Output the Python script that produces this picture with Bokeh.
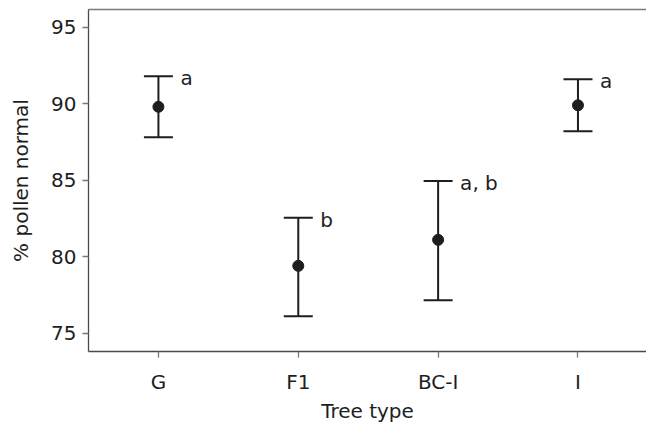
from bokeh.plotting import figure
from bokeh.models import ColumnDataSource, FixedTicker, LinearAxis, Range1d
from bokeh.core.properties import value
from bokeh.embed import file_html
from bokeh.resources import INLINE

tree_types = ["G", "F1", "BC-I", "I"]
means = [89.8, 79.4, 81.1, 89.9]
upper = [91.8, 82.55, 84.95, 91.6]
lower = [87.8, 76.1, 77.15, 88.2]
letters = ["a", "b", "a, b", "a"]
y_ticks = [75, 80, 85, 90, 95]

xpos = list(range(1, len(tree_types) + 1))
src = ColumnDataSource(dict(x=xpos, mean=means, upper=upper, lower=lower, letter=letters))

FONT = "DejaVu Sans"
INK = "#1e1e1e"
AX = "#4a4a4a"

p = figure(width=646, height=427, output_backend="svg", toolbar_location=None,
           x_range=Range1d(0.5, 4.49), y_range=Range1d(73.8, 96.16),
           min_border_left=88, min_border_right=0, min_border_top=9, min_border_bottom=76)
p.outline_line_color = "white"
p.outline_line_width = 3
p.grid.visible = False
p.background_fill_color = None
p.border_fill_color = None

p.segment("x", "lower", "x", "upper", source=src, line_color=INK, line_width=2)
p.scatter("x", "upper", source=src, marker="dash", size=29, line_color=INK, line_width=2)
p.scatter("x", "lower", source=src, marker="dash", size=29, line_color=INK, line_width=2)
p.scatter("x", "mean", source=src, size=11, color=INK)
p.text("x", "upper", text="letter", source=src, x_offset=22, y_offset=2,
       text_font=value(FONT), text_font_size="20px", text_color=INK,
       text_baseline="alphabetic", text_align="left")

xa = p.xaxis[0]
xa.ticker = FixedTicker(ticks=xpos)
xa.major_label_overrides = {i: t for i, t in zip(xpos, tree_types)}
xa.axis_label = "Tree type"
ya = p.yaxis[0]
ya.ticker = FixedTicker(ticks=y_ticks)
ya.axis_label = "% pollen normal"
for ax in (xa, ya):
    ax.axis_line_color = AX
    ax.axis_line_width = 1.3
    ax.major_tick_line_color = "#777777"
    ax.major_tick_line_width = 1.3
    ax.major_tick_out = 6
    ax.major_tick_in = 0
    ax.minor_tick_line_color = None
    ax.major_label_text_font = FONT
    ax.major_label_text_font_size = "20px"
    ax.major_label_text_color = INK
    ax.axis_label_text_font = FONT
    ax.axis_label_text_font_size = "20px"
    ax.axis_label_text_font_style = "normal"
    ax.axis_label_text_color = INK
ya.major_label_standoff = 6
ya.axis_label_standoff = 15
xa.major_label_standoff = 12
xa.axis_label_standoff = 2

top = LinearAxis(ticker=FixedTicker(ticks=[]), axis_line_color="#7a7a7a", axis_line_width=1.7,
                 major_tick_line_color=None, minor_tick_line_color=None,
                 major_label_standoff=0, axis_label=None)
p.add_layout(top, "above")

open("out.html", "w").write(file_html(p, INLINE))
